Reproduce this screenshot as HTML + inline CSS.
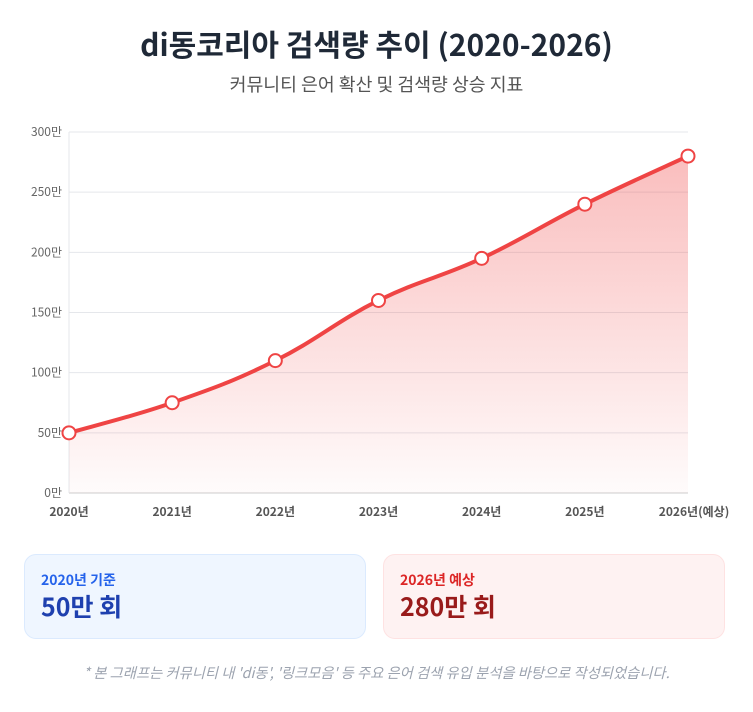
<!DOCTYPE html>
<html><head><meta charset="utf-8"><style>
body{margin:0;width:753px;height:712px;background:#fff;font-family:"Noto Sans CJK KR","Liberation Sans",sans-serif;position:relative;overflow:hidden}
.t{position:absolute;left:0;width:753px;text-align:center;line-height:1.2}
.card{position:absolute;top:554px;height:85px;width:342px;border-radius:12px;box-sizing:border-box}
.card .a{position:absolute;left:16px;top:17px;font-size:14px;font-weight:bold;line-height:1.2}
.card .b{position:absolute;left:16px;top:36px;font-size:25px;font-weight:bold;line-height:1.2}
</style></head><body>
<div class="t" style="top:25px;font-size:30px;font-weight:bold;color:#1f2937">di동코리아 검색량 추이 (2020-2026)</div>
<div class="t" style="top:74px;font-size:18.3px;color:#555">커뮤니티 은어 확산 및 검색량 상승 지표</div>
<svg id="c" width="753" height="530" style="position:absolute;left:0;top:0" font-family="Noto Sans CJK KR, Liberation Sans, sans-serif">
<defs><linearGradient id="g" x1="0" y1="0" x2="0" y2="1"><stop offset="0" stop-color="#ef4444" stop-opacity="0.35"/><stop offset="1" stop-color="#ef4444" stop-opacity="0.02"/></linearGradient></defs>
<g id="grid"></g>
<path id="area" fill="url(#g)"/>
<path id="line" fill="none" stroke="#ef4444" stroke-width="4"/>
<g id="pts"></g>
</svg>
<div class="card" style="left:24px;background:#eff6ff;border:1px solid #dbeafe"><div class="a" style="color:#2563eb">2020년 기준</div><div class="b" style="color:#1e40af">50만 회</div></div>
<div class="card" style="left:383px;background:#fef2f2;border:1px solid #fee2e2"><div class="a" style="color:#dc2626">2026년 예상</div><div class="b" style="color:#991b1b">280만 회</div></div>
<div class="t" style="top:664px;font-size:14.3px;color:#9ca3af;font-style:italic">* 본 그래프는 커뮤니티 내 'di동', '링크모음' 등 주요 은어 검색 유입 분석을 바탕으로 작성되었습니다.</div>
<script>
var x0=69,x1=688,y0=493,s=(493-132)/300,v=[50,75,110,160,195,240,280],lab=['2020년','2021년','2022년','2023년','2024년','2025년','2026년(예상)'];
var P=v.map(function(d,i){return [x0+i*(x1-x0)/6,y0-d*s]});
var g='';
for(var k=0;k<=6;k++){var y=y0-k*50*s;g+='<line x1="69" x2="688" y1="'+y+'" y2="'+y+'" stroke="'+(k==0?'#ccc':'#e5e7eb')+'"/><text x="62" y="'+(y+4)+'" font-size="12" fill="#666" text-anchor="end">'+(k*50)+'만</text>';}
g+='<line x1="69" x2="69" y1="132" y2="493" stroke="#e5e7eb"/>';
P.forEach(function(p,i){g+='<text x="'+(i==6?p[0]+6:p[0])+'" y="516" font-size="12" font-weight="bold" fill="#555" text-anchor="middle">'+lab[i]+'</text>'});
document.getElementById('grid').innerHTML=g;
var d='M'+P[0][0]+','+P[0][1],t=0.4;
for(var i=0;i<6;i++){var a=P[i-1]||P[i],b=P[i],c=P[i+1],e=P[i+2]||c;
var c1=[b[0]+(c[0]-a[0])*t/2,b[1]+(c[1]-a[1])*t/2],c2=[c[0]-(e[0]-b[0])*t/2,c[1]-(e[1]-b[1])*t/2];
d+=' C'+c1+' '+c2+' '+c;}
document.getElementById('line').setAttribute('d',d);
document.getElementById('area').setAttribute('d',d+' L688,493 L69,493Z');
var q='';P.forEach(function(p){q+='<circle cx="'+p[0]+'" cy="'+p[1]+'" r="6.5" fill="#fff" stroke="#ef4444" stroke-width="2"/>'});
document.getElementById('pts').innerHTML=q;
</script>
</body></html>
